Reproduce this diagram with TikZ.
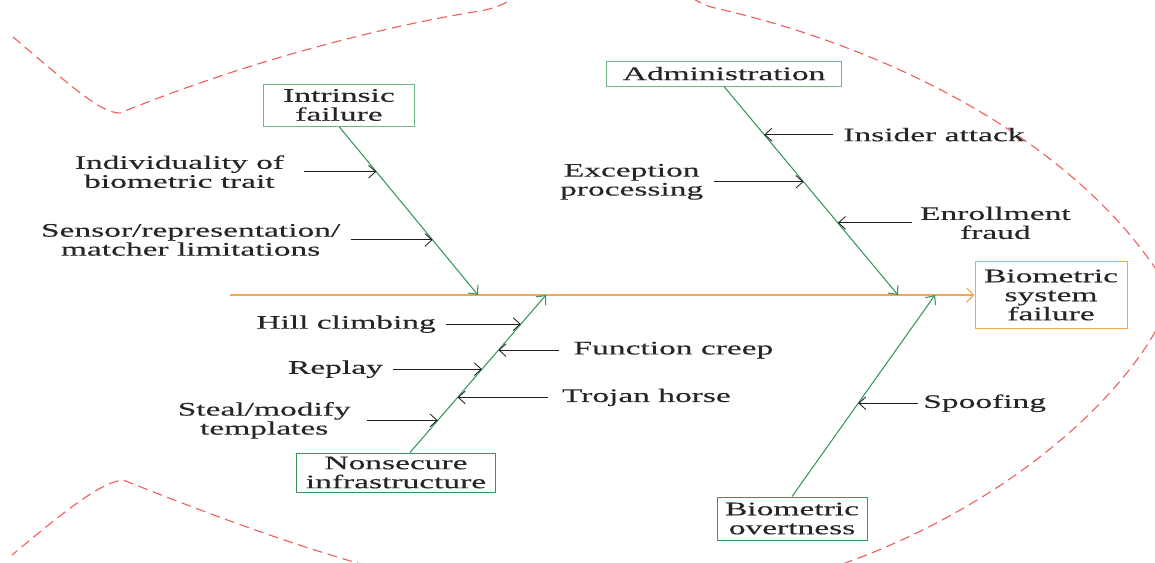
\documentclass[tikz,border=0pt]{standalone}
\usepackage{fontspec}
\setmainfont{Liberation Serif}[FakeStretch=1.75,FakeBold=0.25]
\usetikzlibrary{arrows.meta,positioning}
\definecolor{fishred}{RGB}{240,95,95}
\definecolor{bonegreen}{RGB}{55,150,90}
\definecolor{headorange}{RGB}{245,168,80}

\begin{document}
\begin{tikzpicture}[x=0.025cm, y=-0.025cm,
    txt/.style={font=\fontsize{13.6pt}{13.5pt}\selectfont, text=black!85, align=center, inner xsep=0.25cm},
    box/.style={txt, draw=bonegreen, line width=0.7pt, inner sep=0pt},
    bone/.style={draw=bonegreen, line width=0.75pt, -{Straight Barb[length=5pt,width=9pt]}},
    spine/.style={draw=headorange, line width=0.8pt, -{Straight Barb[length=5pt,width=10pt]}},
    cause/.style={draw=black!88, line width=0.6pt, -{Straight Barb[length=5pt,width=9pt]}},
    fish/.style={draw=fishred, line width=0.8pt, dash pattern=on 7pt off 4pt}]

  \useasboundingbox (0,0) rectangle (1155,562);

  % outline of the fish
  \begin{scope}
    \clip (0,0) rectangle (1155,562);
    \draw[fish] (13,37) .. controls (70,85) and (100,113) .. (120,113)
      .. controls (250,60) and (390,25) .. (480,11)
      .. controls (530,3) and (540,-40) .. (600,-40)
      .. controls (660,-40) and (680,0) .. (715,8)
      .. controls (900,50) and (1090,150) .. (1172,295)
      .. controls (1130,420) and (900,600) .. (620,605)
      .. controls (450,608) and (250,530) .. (123,480)
      .. controls (100,482) and (60,515) .. (12,555);
  \end{scope}

  % head and spine
  \node[box, draw=headorange, minimum width=3.8cm, minimum height=1.675cm] (sfail) at (1051,295) {Biometric\\system\\failure};
  \coordinate (tail) at (230,295);
  \draw[spine] (tail) -- (sfail);

  \coordinate (e1) at (478,295);
  \coordinate (e2) at (898,295);
  \coordinate (e3) at (546,295);
  \coordinate (e4) at (935,295);

  % category boxes
  \node[box, draw=bonegreen!70, minimum width=3.75cm, minimum height=1.05cm] (ifail) at (339,105) {Intrinsic\\failure};
  \node[box, draw=bonegreen!70, minimum width=5.85cm, minimum height=0.625cm] (admin) at (724,73.5) {Administration};
  \node[box, minimum width=4.95cm, minimum height=0.975cm] (nsi) at (396,472.5) {Nonsecure\\infrastructure};
  \node[box, minimum width=3.75cm, minimum height=1.075cm] (bovert) at (792,518.5) {Biometric\\overtness};

  % bones
  \draw[bone] (ifail.south) -- coordinate[pos=0.268] (i1) coordinate[pos=0.673] (i2) (e1);
  \draw[bone] (admin.south) -- coordinate[pos=0.231] (a1) coordinate[pos=0.457] (a2) coordinate[pos=0.654] (a3) (e2);
  \draw[bone] ([xshift=0.35cm]nsi.north) -- coordinate[pos=0.204] (n1) coordinate[pos=0.35] (n2)
    coordinate[pos=0.529] (n3) coordinate[pos=0.65] (n4) coordinate[pos=0.815] (n5) (e3);
  \draw[bone] (bovert.north) -- coordinate[pos=0.463] (o1) (e4);

  % causes
  \node[txt, left=1.8cm of i1, inner xsep=0.5cm] (indiv) {Individuality of\\biometric trait};
  \node[txt, left=2.05cm of i2] (sensor) {Sensor/representation/\\matcher limitations};
  \node[txt, right=1.72cm of a1] (insider) {Insider attack};
  \node[txt, left=2.25cm of a2] (except) {Exception\\processing};
  \node[txt, right=1.85cm of a3, inner xsep=0.2cm] (enroll) {Enrollment\\fraud};
  \node[txt, left=1.77cm of n1, inner xsep=0.4cm] (steal) {Steal/modify\\templates};
  \node[txt, right=2.25cm of n2, inner xsep=0.35cm] (trojan) {Trojan horse};
  \node[txt, left=2.22cm of n3] (replay) {Replay};
  \node[txt, right=1.52cm of n4, inner xsep=0.35cm] (fcreep) {Function creep};
  \node[txt, left=1.87cm of n5] (hill) {Hill climbing};
  \node[txt, right=1.5cm of o1, inner xsep=0.12cm] (spoof) {Spoofing};

  \draw[cause] (indiv) -- (i1);
  \draw[cause] (sensor) -- (i2);
  \draw[cause] (insider) -- (a1);
  \draw[cause] (except) -- (a2);
  \draw[cause] (enroll) -- (a3);
  \draw[cause] (steal) -- (n1);
  \draw[cause] (trojan) -- (n2);
  \draw[cause] (replay) -- (n3);
  \draw[cause] (fcreep) -- (n4);
  \draw[cause] (hill) -- (n5);
  \draw[cause] (spoof) -- (o1);
\end{tikzpicture}
\end{document}
